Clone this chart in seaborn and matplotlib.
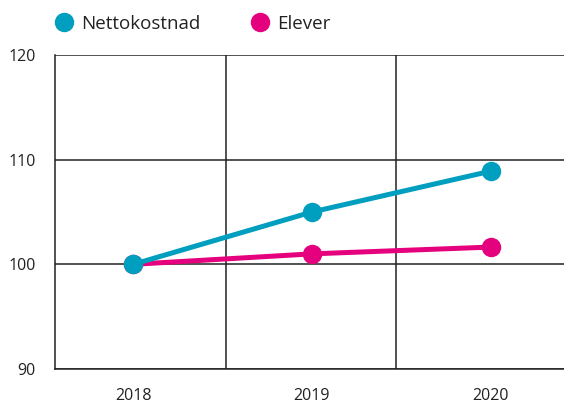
import pandas as pd
import matplotlib.pyplot as plt
import seaborn as sns

years = ["2018", "2019", "2020"]
nettokostnad = [100, 105, 108.9]
elever = [100, 101.0, 101.65]
series_names = ["Nettokostnad", "Elever"]
colors = ["#009FBF", "#E5007D"]
y_ticks = [90, 100, 110, 120]

df = pd.DataFrame({
    "År": years * 2,
    "Indeks": nettokostnad + elever,
    "Serie": [series_names[0]] * 3 + [series_names[1]] * 3,
})
df["pos"] = [0, 1, 2] * 2

sns.set_style("white")
plt.rcParams["font.family"] = ["Open Sans", "DejaVu Sans"]

fig = plt.figure(figsize=(5.64, 4.03), dpi=100)
ax = fig.add_axes([55 / 564, 34 / 403, 509 / 564, 314 / 403])

# draw order: Elever under Nettokostnad
for name, col in zip(series_names[::-1], colors[::-1]):
    sub = df[df["Serie"] == name]
    sns.lineplot(data=sub, x="pos", y="Indeks", ax=ax, color=col, linewidth=3.6,
                 marker="o", markersize=14, markeredgewidth=0, legend=False)

ax.set_xlim(-0.437, 2.41)
ax.set_ylim(90, 120)
ax.set_yticks(y_ticks)
ax.set_xticks([0, 1, 2])
ax.set_xticklabels(years)
ax.set_xlabel("")
ax.set_ylabel("")
for y in y_ticks:
    ax.axhline(y, color="#222222", linewidth=1.1, zorder=0)
for x in [0.517, 1.473]:
    ax.axvline(x, color="#222222", linewidth=1.1, zorder=0)

for s in ["top", "right"]:
    ax.spines[s].set_visible(False)
ax.spines["left"].set_color("#222222")
ax.spines["bottom"].set_color("#222222")
ax.spines["left"].set_linewidth(1.1)
ax.spines["bottom"].set_linewidth(1.1)
ax.tick_params(axis="both", length=0, labelsize=11.5, colors="#222222")
ax.tick_params(axis="y", pad=14)
ax.tick_params(axis="x", pad=14)

handles = [plt.Line2D([], [], color=c, marker="o", linestyle="none", markersize=14,
                      markeredgewidth=0) for c in colors]
fig.legend(handles, series_names, loc="center left", bbox_to_anchor=(36 / 564, 1 - 24 / 403),
           ncol=2, frameon=False, fontsize=13.5, handletextpad=0.3, columnspacing=2.6,
           handlelength=1.2, labelcolor="#222222")

fig.savefig("out.png", dpi=100)
plt.close(fig)
